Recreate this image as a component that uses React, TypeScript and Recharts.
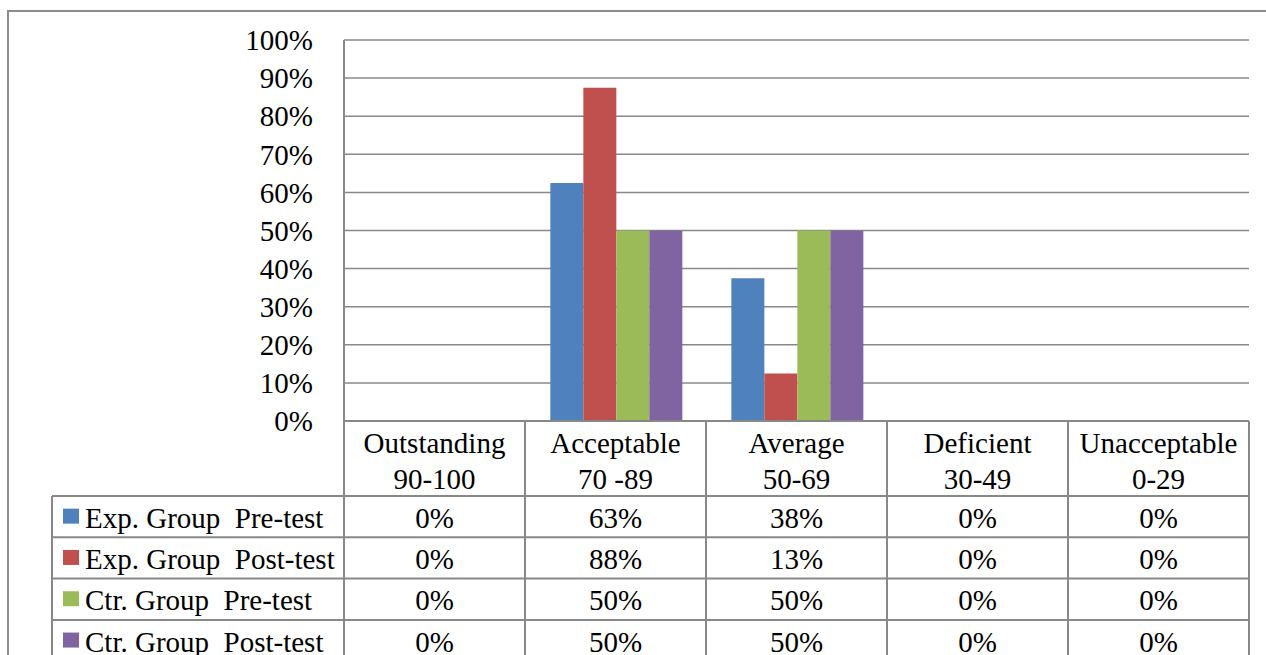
import React from "react";
import { BarChart, Bar, XAxis, YAxis, CartesianGrid } from "recharts";

const CATEGORIES = ["Outstanding", "Acceptable", "Average", "Deficient", "Unacceptable"];
const RANGES = ["90-100", "70 -89", "50-69", "30-49", "0-29"];

const EXP_PRE = [0, 62.5, 37.5, 0, 0];
const EXP_POST = [0, 87.5, 12.5, 0, 0];
const CTR_PRE = [0, 50, 50, 0, 0];
const CTR_POST = [0, 50, 50, 0, 0];

const Y_TICKS = [0, 10, 20, 30, 40, 50, 60, 70, 80, 90, 100];

const SERIES = [
  { key: "expPre", name: "Exp. Group  Pre-test", color: "#4F81BD", values: EXP_PRE },
  { key: "expPost", name: "Exp. Group  Post-test", color: "#C0504D", values: EXP_POST },
  { key: "ctrPre", name: "Ctr. Group  Pre-test", color: "#9BBB59", values: CTR_PRE },
  { key: "ctrPost", name: "Ctr. Group  Post-test", color: "#8064A2", values: CTR_POST },
];

const data = CATEGORIES.map((c, i) => {
  const row: Record<string, any> = { category: c, range: RANGES[i] };
  SERIES.forEach((s) => (row[s.key] = s.values[i]));
  return row;
});

const FONT = "Liberation Serif";
const LINE = "#888888";
const HEADER_H = 75;
const ROW_H = 41.3;
const LEGEND_W = 292;
const TXT = { fontFamily: FONT, fontSize: 29, fill: "#000", whiteSpace: "pre" } as any;

function TableTick(props: any) {
  const { x, y, payload, index, width } = props;
  const w = (width || 905) / CATEGORIES.length;
  const left = x - w / 2;
  const right = x + w / 2;
  const headTop = y;
  const headBottom = y + HEADER_H;
  const rowsBottom = headBottom + ROW_H * SERIES.length;
  const item = data[index];
  return (
    <g>
      <line x1={left} x2={left} y1={headTop} y2={rowsBottom + 20} stroke={LINE} strokeWidth={2} />
      {index === CATEGORIES.length - 1 && (
        <line x1={right} x2={right} y1={headTop} y2={rowsBottom + 20} stroke={LINE} strokeWidth={2} />
      )}
      <text x={x} y={headTop + 22} textAnchor="middle" dominantBaseline="central" style={TXT}>
        {payload.value}
      </text>
      <text x={x} y={headTop + 58} textAnchor="middle" dominantBaseline="central" style={TXT}>
        {item.range}
      </text>
      {SERIES.map((s, r) => {
        const top = headBottom + r * ROW_H;
        return (
          <g key={s.key}>
            <line x1={left} x2={right} y1={top} y2={top} stroke={LINE} strokeWidth={2} />
            <text x={x} y={top + ROW_H / 2 + 1} textAnchor="middle" dominantBaseline="central" style={TXT}>
              {Math.round(item[s.key])}%
            </text>
          </g>
        );
      })}
      {index === 0 && (
        <g>
          <line
            x1={left - LEGEND_W}
            x2={left - LEGEND_W}
            y1={headBottom}
            y2={rowsBottom + 20}
            stroke={LINE}
            strokeWidth={2}
          />
          {SERIES.map((s, r) => {
            const top = headBottom + r * ROW_H;
            return (
              <g key={s.key}>
                <line x1={left - LEGEND_W} x2={left} y1={top} y2={top} stroke={LINE} strokeWidth={2} />
                <rect x={left - LEGEND_W + 11} y={top + ROW_H / 2 - 8} width={16} height={15} fill={s.color} />
                <text x={left - LEGEND_W + 33} y={top + ROW_H / 2 + 1} dominantBaseline="central" style={TXT}>
                  {s.name}
                </text>
              </g>
            );
          })}
        </g>
      )}
      <line x1={left} x2={right} y1={rowsBottom} y2={rowsBottom} stroke={LINE} strokeWidth={2} />
    </g>
  );
}

export default function App() {
  return (
    <div
      style={{
        position: "fixed",
        left: 0,
        top: 0,
        width: 1266,
        height: 655,
        overflow: "hidden",
        background: "#fff",
        fontFamily: FONT,
      }}
    >
      <div
        style={{
          position: "absolute",
          left: 7,
          top: 10,
          width: 1300,
          height: 700,
          borderTop: "2px solid #8c8c8c",
          borderLeft: "2px solid #8c8c8c",
        }}
      />
      <div style={{ position: "absolute", left: 0, top: 0 }}>
        <BarChart
          width={1266}
          height={700}
          data={data}
          margin={{ top: 40, right: 17, left: 284, bottom: 25 }}
          barCategoryGap="14%"
          barGap={0}
          style={{ fontFamily: FONT }}
        >
          <CartesianGrid vertical={false} stroke={LINE} strokeWidth={1.5} />
          <XAxis
            dataKey="category"
            interval={0}
            height={254}
            tickSize={0}
            tickMargin={0}
            tickLine={false}
            axisLine={{ stroke: LINE, strokeWidth: 2 }}
            tick={<TableTick />}
          />
          <YAxis
            domain={[0, 100]}
            ticks={Y_TICKS}
            width={60}
            tickSize={0}
            tickMargin={31}
            tickLine={false}
            axisLine={{ stroke: LINE, strokeWidth: 2 }}
            tickFormatter={(v: number) => `${v}%`}
            tick={{ fill: "#000", fontSize: 29, fontFamily: FONT, style: { fontFamily: FONT } }}
          />
          {SERIES.map((s) => (
            <Bar
              key={s.key}
              dataKey={s.key}
              name={s.name}
              fill={s.color}
              isAnimationActive={false}
            />
          ))}
        </BarChart>
      </div>
    </div>
  );
}
